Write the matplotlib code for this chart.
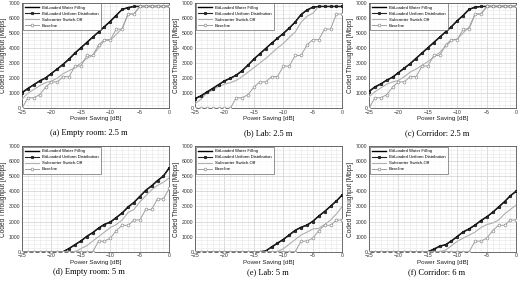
import numpy as np
import matplotlib
matplotlib.use('Agg')
import matplotlib.pyplot as plt
from matplotlib.ticker import MultipleLocator

power_saving = list(range(-25, 1))

captions = ['(a) Empty room: 2.5 m', '(b) Lab: 2.5 m', '(c) Corridor: 2.5 m',
            '(d) Empty room: 5 m', '(e) Lab: 5 m', '(f) Corridor: 6 m']

series_names = ['BitLoaded Water Filling', 'BitLoaded Uniform Distribution',
                'Subcarrier Switch-Off', 'Baseline']

# (a) Empty room 2.5 m
wf_a = [1050, 1320, 1570, 1820, 2020, 2320, 2620, 2930, 3280, 3670, 4020, 4370, 4720,
        5070, 5420, 5780, 6170, 6560, 6680, 6750, 6750, 6750, 6750, 6750, 6750, 6750]
ud_a = [1000, 1300, 1550, 1800, 2000, 2300, 2600, 2900, 3250, 3650, 4000, 4350, 4700,
        5050, 5400, 5750, 6150, 6550, 6650, 6750, 6750, 6750, 6750, 6750, 6750, 6750]
sso_a = [600, 1000, 1250, 1500, 1700, 1800, 2000, 2300, 2500, 2700, 3000, 3300, 3500,
         4000, 4500, 4500, 4900, 5300, 6250, 6250, 6750, 6750, 6750, 6750, 6750, 6750]
base_a = [0, 700, 700, 900, 1400, 1750, 1750, 2100, 2100, 2800, 2800, 3500, 3500,
          4200, 4550, 4550, 5250, 5250, 6250, 6250, 6750, 6750, 6750, 6750, 6750, 6750]

# (b) Lab 2.5 m
wf_b = [650, 830, 1080, 1320, 1570, 1820, 2000, 2200, 2500, 2870, 3270, 3620, 3970,
        4320, 4650, 4970, 5330, 5720, 6220, 6520, 6700, 6750, 6750, 6750, 6750, 6750]
ud_b = [620, 800, 1050, 1300, 1550, 1800, 1980, 2180, 2480, 2850, 3250, 3600, 3950,
        4300, 4630, 4950, 5300, 5700, 6200, 6500, 6700, 6750, 6750, 6750, 6750, 6750]
sso_b = [300, 600, 1000, 1200, 1450, 1600, 1700, 1850, 2100, 2400, 2700, 3000, 3300,
         3650, 4000, 4300, 4700, 5050, 5700, 6100, 6300, 6750, 6750, 6750, 6750, 6750]
base_b = [0, 0, 0, 0, 0, 0, 0, 700, 700, 900, 1400, 1750, 1750,
          2100, 2100, 2800, 2800, 3500, 3500, 4200, 4550, 4550, 5250, 5250, 6250, 6250]

# (c) Corridor 2.5 m
wf_c = [1120, 1420, 1620, 1870, 2070, 2370, 2670, 2970, 3320, 3670, 4020, 4370, 4720,
        5070, 5420, 5820, 6170, 6570, 6700, 6750, 6750, 6750, 6750, 6750, 6750, 6750]
ud_c = [1100, 1400, 1600, 1850, 2050, 2350, 2650, 2950, 3300, 3650, 4000, 4350, 4700,
        5050, 5400, 5800, 6150, 6550, 6700, 6750, 6750, 6750, 6750, 6750, 6750, 6750]
sso_c = [750, 1100, 1350, 1600, 1750, 1850, 2100, 2400, 2600, 2850, 3100, 3400, 3700,
         4100, 4500, 4600, 5000, 5400, 6250, 6250, 6750, 6750, 6750, 6750, 6750, 6750]
base_c = [0, 700, 700, 900, 1400, 1750, 1750, 2100, 2100, 2800, 2800, 3500, 3500,
          4200, 4550, 4550, 5250, 5250, 6250, 6250, 6750, 6750, 6750, 6750, 6750, 6750]

# (d) Empty room 5 m
wf_d = [0, 0, 0, 0, 0, 0, 0, 0, 220, 470, 720, 1020, 1270,
        1570, 1820, 1970, 2270, 2570, 2970, 3270, 3670, 4070, 4370, 4720, 5020, 5570]
ud_d = [0, 0, 0, 0, 0, 0, 0, 0, 200, 450, 700, 1000, 1250,
        1550, 1800, 1950, 2250, 2550, 2950, 3250, 3650, 4050, 4350, 4700, 5000, 5550]
sso_d = [0, 0, 0, 0, 0, 0, 0, 0, 0, 0, 200, 400, 700,
         1000, 1300, 1600, 1800, 2100, 2600, 2800, 3300, 3700, 4100, 4400, 4600, 4900]
base_d = [0, 0, 0, 0, 0, 0, 0, 0, 0, 0, 0, 0, 0,
          700, 700, 900, 1400, 1750, 1750, 2100, 2100, 2800, 2800, 3500, 3500, 4200]

# (e) Lab 5 m
wf_e = [0, 0, 0, 0, 0, 0, 0, 0, 0, 0, 0, 0, 50,
        320, 570, 820, 1120, 1420, 1620, 1770, 2020, 2370, 2670, 3020, 3370, 3770]
ud_e = [0, 0, 0, 0, 0, 0, 0, 0, 0, 0, 0, 0, 30,
        300, 550, 800, 1100, 1400, 1600, 1750, 2000, 2350, 2650, 3000, 3350, 3750]
sso_e = [0, 0, 0, 0, 0, 0, 0, 0, 0, 0, 0, 0, 0,
         0, 0, 200, 500, 800, 1100, 1300, 1500, 1550, 1800, 2100, 2500, 3000]
base_e = [0, 0, 0, 0, 0, 0, 0, 0, 0, 0, 0, 0, 0,
          0, 0, 0, 0, 0, 700, 700, 900, 1400, 1750, 1750, 2100, 2100]

# (f) Corridor 6 m
wf_f = [0, 0, 0, 0, 0, 0, 0, 0, 0, 0, 0, 170, 370,
        470, 720, 1020, 1320, 1520, 1770, 2070, 2320, 2620, 2970, 3320, 3720, 4020]
ud_f = [0, 0, 0, 0, 0, 0, 0, 0, 0, 0, 0, 150, 350,
        450, 700, 1000, 1300, 1500, 1750, 2050, 2300, 2600, 2950, 3300, 3700, 4000]
sso_f = [0, 0, 0, 0, 0, 0, 0, 0, 0, 0, 0, 0, 0,
         100, 400, 700, 900, 1100, 1300, 1600, 1800, 1900, 2100, 2500, 2800, 3100]
base_f = [0, 0, 0, 0, 0, 0, 0, 0, 0, 0, 0, 0, 0,
          0, 0, 0, 0, 0, 700, 700, 900, 1400, 1750, 1750, 2100, 2100]

panels = [
    (wf_a, ud_a, sso_a, base_a),
    (wf_b, ud_b, sso_b, base_b),
    (wf_c, ud_c, sso_c, base_c),
    (wf_d, ud_d, sso_d, base_d),
    (wf_e, ud_e, sso_e, base_e),
    (wf_f, ud_f, sso_f, base_f),
]

W, H = 521, 281
col_left = [22, 195, 369]
row_bottom = [108.3, 251.7]
ax_w, ax_h = 147.3, 105.6
caption_x = [89, 268, 437]
caption_y = [133, 272]

plt.rcParams['font.family'] = ['Liberation Sans', 'DejaVu Sans']


def draw_panel(ax, wf, ud, sso, base):
    ax.plot(power_saving, wf, color='black', lw=1.0, label=series_names[0], zorder=3)
    ax.plot(power_saving, ud, color='#222222', lw=0.8, marker='o', ms=1.9,
            mfc='#333333', mec='black', mew=0.4, label=series_names[1], zorder=4)
    ax.plot(power_saving, sso, color='#b0b0b0', lw=0.8, label=series_names[2], zorder=3)
    ax.plot(power_saving, base, color='#a0a0a0', lw=0.7, marker='o', ms=2.0,
            mfc='white', mec='#909090', mew=0.5, label=series_names[3], zorder=5)

    ax.set_xlim(-25, 0)
    ax.set_ylim(0, 7000)
    ax.xaxis.set_major_locator(MultipleLocator(5))
    ax.xaxis.set_minor_locator(MultipleLocator(1))
    ax.yaxis.set_major_locator(MultipleLocator(1000))
    ax.yaxis.set_minor_locator(MultipleLocator(250))
    ax.grid(which='major', color='#cfcfcf', lw=0.5)
    ax.grid(which='minor', color='#e6e6e6', lw=0.4)
    ax.set_axisbelow(True)
    ax.tick_params(which='both', length=0, labelsize=3.7, pad=1.2, colors='#333333')
    for s in ax.spines.values():
        s.set_linewidth(0.6)
        s.set_color('#555555')
    ax.set_xlabel('Power Saving [dB]', fontsize=4.5, labelpad=1, color='#222222')
    ax.set_ylabel('Coded Throughput [Mbps]', fontsize=4.7, labelpad=1, color='#222222')
    leg = ax.legend(loc='upper left', fontsize=3.1, frameon=True, fancybox=False,
                    borderpad=0.6, handlelength=3.3, labelspacing=0.45,
                    borderaxespad=0.15, handletextpad=0.6)
    leg.get_frame().set_edgecolor('#444444')
    leg.get_frame().set_linewidth(0.5)


def main():
    fig = plt.figure(figsize=(W / 100, H / 100), dpi=100)
    for i, data in enumerate(panels):
        r, c = divmod(i, 3)
        ax = fig.add_axes([col_left[c] / W, (H - row_bottom[r]) / H, ax_w / W, ax_h / H])
        draw_panel(ax, *data)
        fig.text(caption_x[c] / W, (H - caption_y[r]) / H, captions[i],
                 ha='center', va='center', fontsize=6,
                 family=['Liberation Serif', 'DejaVu Serif'])
    fig.savefig('out.png', dpi=100)


if __name__ == '__main__':
    main()
